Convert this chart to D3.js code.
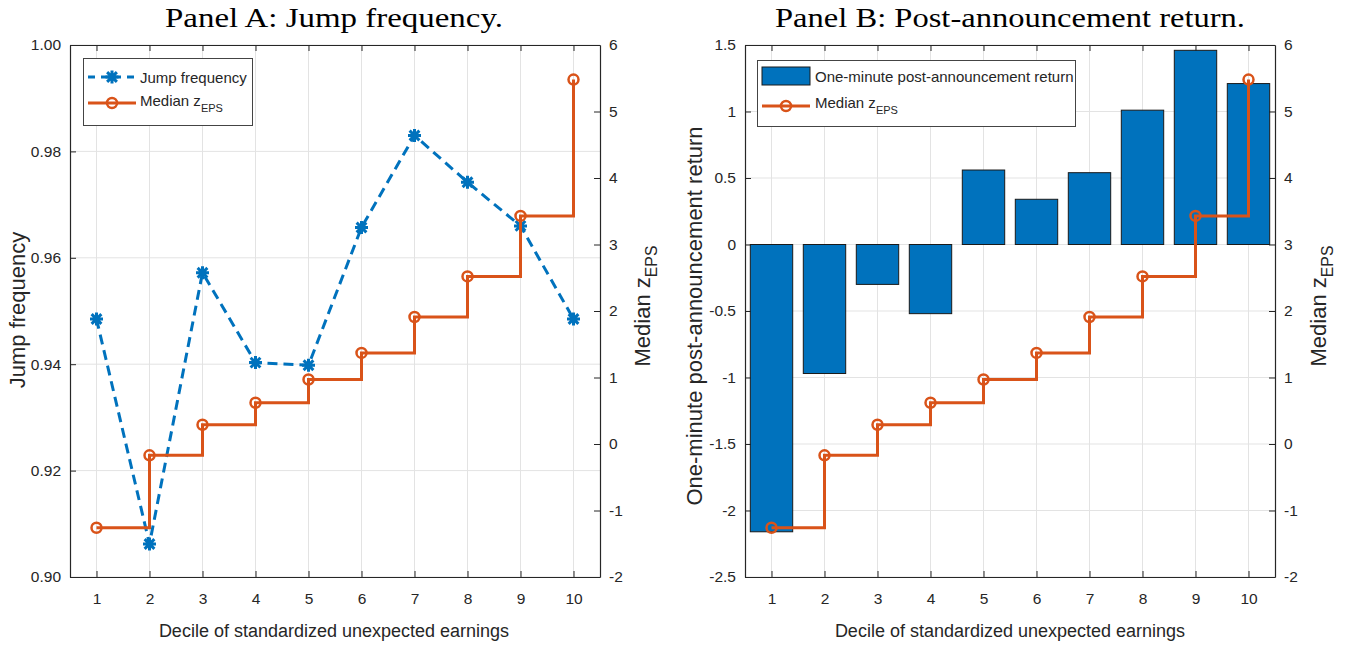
<!DOCTYPE html>
<html>
<head>
<meta charset="utf-8">
<script src="https://cdn.jsdelivr.net/npm/d3@7/dist/d3.min.js"></script>
<style>
  html, body { margin: 0; padding: 0; background: #fff; }
  svg text { font-family: "Liberation Sans", Arial, sans-serif; fill: #262626; }
  .title { font-family: "Liberation Serif", "DejaVu Serif", serif; font-size: 27px; fill: #000; }
</style>
</head>
<body>
<svg id="chart" width="1346" height="646"></svg>
<script>
// ---------------- data ----------------
const deciles = [1, 2, 3, 4, 5, 6, 7, 8, 9, 10];
const jumpFrequency = [0.9485, 0.9062, 0.9572, 0.9403, 0.9398, 0.9657, 0.9830, 0.9742, 0.9660, 0.9485];
const medianZEPS = [-1.26, -0.17, 0.29, 0.62, 0.97, 1.37, 1.91, 2.52, 3.43, 5.48];
const postReturn = [-2.16, -0.97, -0.30, -0.52, 0.56, 0.34, 0.54, 1.01, 1.46, 1.21];

const ticksJump = [0.90, 0.92, 0.94, 0.96, 0.98, 1.00];
const ticksReturn = [-2.5, -2, -1.5, -1, -0.5, 0, 0.5, 1, 1.5];
const ticksZ = [-2, -1, 0, 1, 2, 3, 4, 5, 6];

const titleA = "Panel A: Jump frequency.";
const titleB = "Panel B: Post-announcement return.";
const xLabel = "Decile of standardized unexpected earnings";
const yLabelA = "Jump frequency";
const yLabelB = "One-minute post-announcement return";
const legendJump = "Jump frequency";
const legendReturn = "One-minute post-announcement return";

// ---------------- style ----------------
const BLUE = "#0072BD", ORANGE = "#D95319", AXIS = "#262626", GRID = "#e3e3e3";
const svg = d3.select("#chart");

function panel(opt) {
  const g = svg.append("g");
  const x = d3.scaleLinear().domain([0.5, 10.5]).range([opt.left, opt.right]);
  const yL = d3.scaleLinear().domain(opt.leftDomain).range([577, 45]);
  const yR = d3.scaleLinear().domain([-2, 6]).range([577, 45]);

  // grid
  g.append("g").selectAll("line").data(deciles).join("line")
    .attr("x1", d => x(d)).attr("x2", d => x(d)).attr("y1", 45).attr("y2", 577)
    .attr("stroke", GRID).attr("stroke-width", 1);
  g.append("g").selectAll("line").data(opt.leftTicks).join("line")
    .attr("x1", opt.left).attr("x2", opt.right).attr("y1", d => yL(d)).attr("y2", d => yL(d))
    .attr("stroke", GRID).attr("stroke-width", 1);

  // axes
  const tick = 6;
  const bottom = g.append("g").attr("transform", "translate(0,577)")
    .call(d3.axisBottom(x).tickValues(deciles).tickSizeInner(-tick).tickSizeOuter(0).tickPadding(16));
  const top = g.append("g").attr("transform", "translate(0,45)")
    .call(d3.axisTop(x).tickValues(deciles).tickSizeInner(-tick).tickSizeOuter(0).tickFormat(""));
  const left = g.append("g").attr("transform", `translate(${opt.left},0)`)
    .call(d3.axisLeft(yL).tickValues(opt.leftTicks).tickSizeInner(-tick).tickSizeOuter(0).tickPadding(9)
      .tickFormat(opt.leftFormat));
  const right = g.append("g").attr("transform", `translate(${opt.right},0)`)
    .call(d3.axisRight(yR).tickValues(ticksZ).tickSizeInner(-tick).tickSizeOuter(0).tickPadding(9)
      .tickFormat(d3.format("d")));
  [bottom, top, left, right].forEach(a => {
    a.select(".domain").attr("stroke", AXIS).attr("stroke-width", 1.2);
    a.selectAll(".tick line").attr("stroke", AXIS).attr("stroke-width", 1);
    a.selectAll(".tick text").attr("font-size", 15.5).style("font-family", "Liberation Sans, Arial, sans-serif").attr("fill", AXIS);
  });
  right.selectAll(".tick text").text(d => d < 0 ? "-" + Math.abs(d) : d);
  left.selectAll(".tick text").text(d => { const s = opt.leftFormat(d); return s.replace("−", "-"); });

  return { g, x, yL, yR };
}

function zLabel(sel, xPos, yPos, rotate, size) {
  const t = sel.append("text").attr("font-size", size)
    .attr("transform", `translate(${xPos},${yPos}) rotate(${rotate})`)
    .attr("text-anchor", "middle");
  t.append("tspan").text("Median z");
  t.append("tspan").attr("font-size", size * 0.72).attr("dy", size * 0.3).text("EPS");
  return t;
}

function asterisk(sel, cx, cy, r) {
  const p = d3.path();
  p.moveTo(cx - r, cy); p.lineTo(cx + r, cy);
  p.moveTo(cx, cy - r); p.lineTo(cx, cy + r);
  const q = r * 0.75;
  p.moveTo(cx - q, cy - q); p.lineTo(cx + q, cy + q);
  p.moveTo(cx - q, cy + q); p.lineTo(cx + q, cy - q);
  sel.append("path").attr("d", p.toString()).attr("stroke", BLUE).attr("stroke-width", 3).attr("fill", "none");
}

function stepLine(P) {
  const line = d3.line().x(d => P.x(d[0])).y(d => P.yR(d[1])).curve(d3.curveStepAfter);
  P.g.append("path").datum(deciles.map((d, i) => [d, medianZEPS[i]]))
    .attr("d", line).attr("fill", "none").attr("stroke", ORANGE).attr("stroke-width", 3);
  P.g.append("g").selectAll("circle").data(deciles).join("circle")
    .attr("cx", d => P.x(d)).attr("cy", (d, i) => P.yR(medianZEPS[i])).attr("r", 5)
    .attr("fill", "none").attr("stroke", ORANGE).attr("stroke-width", 2.5);
}

function title(text, cx, width) {
  svg.append("text").attr("class", "title").attr("x", cx - width / 2).attr("y", 27)
    .attr("textLength", width).attr("lengthAdjust", "spacingAndGlyphs").text(text);
}

// ---------------- Panel A ----------------
const A = panel({ left: 70, right: 600, leftDomain: [0.90, 1.00], leftTicks: ticksJump, leftFormat: d3.format(".2f") });
{
  const line = d3.line().x(d => A.x(d[0])).y(d => A.yL(d[1]));
  A.g.append("path").datum(deciles.map((d, i) => [d, jumpFrequency[i]]))
    .attr("d", line).attr("fill", "none").attr("stroke", BLUE).attr("stroke-width", 3)
    .attr("stroke-dasharray", "10,6");
  deciles.forEach((d, i) => asterisk(A.g, A.x(d), A.yL(jumpFrequency[i]), 6.5));
  stepLine(A);
  // legend
  const L = A.g.append("g");
  L.append("rect").attr("x", 83.5).attr("y", 58.5).attr("width", 169).attr("height", 67)
    .attr("fill", "#fff").attr("stroke", "#444").attr("stroke-width", 1);
  L.append("line").attr("x1", 88).attr("x2", 136).attr("y1", 77).attr("y2", 77)
    .attr("stroke", BLUE).attr("stroke-width", 3).attr("stroke-dasharray", "7,6");
  asterisk(L, 112, 77, 6.5);
  L.append("text").attr("x", 140).attr("y", 83).attr("font-size", 15).text(legendJump);
  L.append("line").attr("x1", 88).attr("x2", 136).attr("y1", 103).attr("y2", 103)
    .attr("stroke", ORANGE).attr("stroke-width", 3);
  L.append("circle").attr("cx", 112).attr("cy", 103).attr("r", 5).attr("fill", "none")
    .attr("stroke", ORANGE).attr("stroke-width", 2.5);
  const t = L.append("text").attr("x", 140).attr("y", 106).attr("font-size", 15);
  t.append("tspan").text("Median z");
  t.append("tspan").attr("font-size", 11).attr("dy", 6).text("EPS");
  // labels
  title(titleA, 334, 338);
  svg.append("text").attr("x", 334).attr("y", 637).attr("text-anchor", "middle").attr("font-size", 18).text(xLabel);
  svg.append("text").attr("transform", "translate(25,310) rotate(-90)").attr("text-anchor", "middle")
    .attr("font-size", 22).text(yLabelA);
  zLabel(svg, 650, 306, -90, 22);
}

// ---------------- Panel B ----------------
const B = panel({ left: 745, right: 1275, leftDomain: [-2.5, 1.5], leftTicks: ticksReturn, leftFormat: d3.format("") });
{
  const bw = (B.x(1.8) - B.x(1));
  B.g.append("g").selectAll("rect").data(deciles).join("rect")
    .attr("x", d => B.x(d) - bw / 2).attr("width", bw)
    .attr("y", (d, i) => B.yL(Math.max(0, postReturn[i])))
    .attr("height", (d, i) => Math.abs(B.yL(postReturn[i]) - B.yL(0)))
    .attr("fill", BLUE).attr("stroke", "#1a1a1a").attr("stroke-width", 1);
  stepLine(B);
  const L = B.g.append("g");
  L.append("rect").attr("x", 757.5).attr("y", 60.5).attr("width", 318).attr("height", 66)
    .attr("fill", "#fff").attr("stroke", "#444").attr("stroke-width", 1);
  L.append("rect").attr("x", 762).attr("y", 67).attr("width", 48).attr("height", 18)
    .attr("fill", BLUE).attr("stroke", "#1a1a1a").attr("stroke-width", 1);
  L.append("text").attr("x", 815).attr("y", 82).attr("font-size", 15).text(legendReturn);
  L.append("line").attr("x1", 762).attr("x2", 810).attr("y1", 106).attr("y2", 106)
    .attr("stroke", ORANGE).attr("stroke-width", 3);
  L.append("circle").attr("cx", 786).attr("cy", 106).attr("r", 5).attr("fill", "none")
    .attr("stroke", ORANGE).attr("stroke-width", 2.5);
  const t = L.append("text").attr("x", 815).attr("y", 108).attr("font-size", 15);
  t.append("tspan").text("Median z");
  t.append("tspan").attr("font-size", 11).attr("dy", 6).text("EPS");
  title(titleB, 1010, 470);
  svg.append("text").attr("x", 1010).attr("y", 637).attr("text-anchor", "middle").attr("font-size", 18).text(xLabel);
  svg.append("text").attr("transform", "translate(702,316) rotate(-90)").attr("text-anchor", "middle")
    .attr("font-size", 22).text(yLabelB);
  zLabel(svg, 1326, 306, -90, 22);
}
</script>
</body>
</html>
